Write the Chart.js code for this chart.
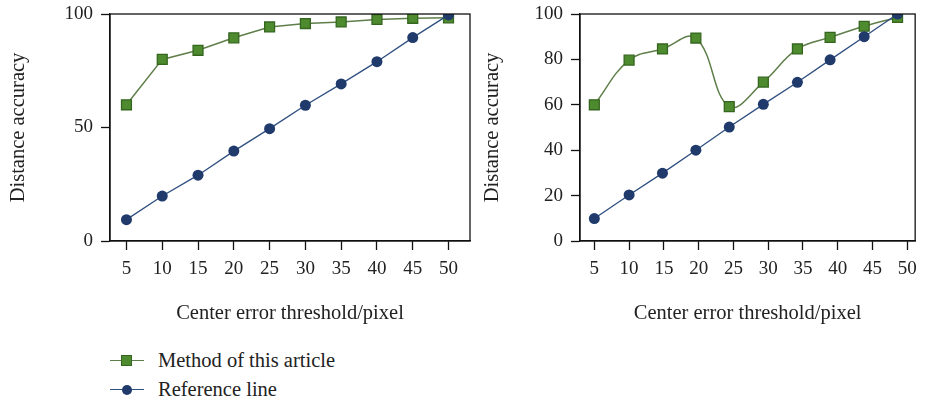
<!DOCTYPE html>
<html>
<head>
<meta charset="utf-8">
<script src="https://cdn.jsdelivr.net/npm/chart.js@4.4.1/dist/chart.umd.min.js"></script>
<style>
	body { margin: 0; background: #fff; width: 925px; height: 405px; overflow: hidden; position: relative; font-family: 'Liberation Serif', serif; }
	#leftWrap { position: absolute; left: 0; top: 0; width: 480px; height: 340px; }
	#rightWrap { position: absolute; left: 470px; top: 0; width: 455px; height: 340px; }
	.legend { position: absolute; left: 110px; font-size: 20.5px; color: #222; display: flex; align-items: center; }
	.legend .key { position: relative; width: 34px; height: 12px; margin-right: 14px; }
	.legend .key .ln { position: absolute; left: 0; right: 0; top: 5px; height: 1.3px; }
	.legend .key .sq { position: absolute; left: 11px; top: 0; width: 11px; height: 11px; box-sizing: border-box; }
	.legend .key .dot { position: absolute; left: 12px; top: 1px; width: 10px; height: 10px; border-radius: 50%; }
</style>
</head>
<body>
<div id="leftWrap"><canvas id="leftChart"></canvas></div>
<div id="rightWrap"><canvas id="rightChart"></canvas></div>
<div class="legend" style="top:349px">
	<div class="key"><div class="ln" style="background:#5f7f4a"></div><div class="sq" style="background:#4e8a2e;border:1.5px solid #35661f"></div></div>
	<span id="lgMethod"></span>
</div>
<div class="legend" style="top:378px">
	<div class="key"><div class="ln" style="background:#2f4f80"></div><div class="dot" style="background:#1f3a6b"></div></div>
	<span id="lgRef"></span>
</div>
<script>
// series names
const methodLabel = 'Method of this article';
const refLabel = 'Reference line';

// left panel
const leftX = [5, 10, 15, 20, 25, 30, 35, 40, 45, 50];
const leftMethod = [60, 80, 84, 89.5, 94.3, 95.8, 96.5, 97.6, 98.1, 98.3];
const leftRef = [9.4, 19.8, 29, 39.6, 49.5, 59.8, 69.2, 79, 89.6, 99.6];
const leftYTicks = [0, 50, 100];

// right panel
const rightX = [5, 10, 14.8, 19.6, 24.4, 29.3, 34.2, 38.9, 43.8, 48.6];
const rightMethod = [60, 79.7, 84.6, 89.4, 59.2, 70, 84.6, 89.7, 94.6, 98.5];
const rightRef = [9.9, 20.3, 29.9, 40, 50.2, 60.2, 69.9, 79.8, 90, 100];
const rightYTicks = [0, 20, 40, 60, 80, 100];

const xTicks = [5, 10, 15, 20, 25, 30, 35, 40, 45, 50];

document.getElementById('lgMethod').textContent = methodLabel;
document.getElementById('lgRef').textContent = refLabel;

const FONT = "'Liberation Serif', 'DejaVu Serif', serif";
const GREEN_LINE = '#5f7f4a';
const GREEN_FILL = '#4e8a2e';
const GREEN_EDGE = '#35661f';
const BLUE_LINE = '#2f4f80';
const BLUE_FILL = '#1f3a6b';

// box around plot area
const frame = {
	id: 'frame',
	afterDraw(chart) {
		const a = chart.chartArea;
		const c = chart.ctx;
		c.save();
		c.strokeStyle = '#111';
		c.lineWidth = 1.3;
		c.strokeRect(a.left, a.top, a.right - a.left, a.bottom - a.top);
		c.restore();
	}
};

function makeChart(id, xs, method, ref, yTicks, xMin, xMax, tension, padRight, yTitlePad) {
	const ptsM = xs.map((x, i) => ({ x: x, y: method[i] }));
	const ptsR = xs.map((x, i) => ({ x: x, y: ref[i] }));
	return new Chart(document.getElementById(id), {
		type: 'line',
		data: {
			datasets: [{
				label: refLabel,
				data: ptsR,
				borderColor: BLUE_LINE,
				borderWidth: 1.3,
				pointStyle: 'circle',
				pointRadius: 5.5,
				pointBackgroundColor: BLUE_FILL,
				pointBorderColor: BLUE_FILL,
				pointBorderWidth: 0,
				tension: 0
			}, {
				label: methodLabel,
				data: ptsM,
				borderColor: GREEN_LINE,
				borderWidth: 1.5,
				pointStyle: 'rect',
				pointRadius: 7,
				pointBackgroundColor: GREEN_FILL,
				pointBorderColor: GREEN_EDGE,
				pointBorderWidth: 1.3,
				tension: tension
			}]
		},
		options: {
			responsive: true,
			maintainAspectRatio: false,
			animation: false,
			layout: { padding: { top: 14, right: padRight, left: 0, bottom: 0 } },
			plugins: { legend: { display: false }, tooltip: { enabled: false } },
			scales: {
				x: {
					type: 'linear',
					min: xMin,
					max: xMax,
					afterBuildTicks: s => { s.ticks = xTicks.map(v => ({ value: v })); },
					afterFit: s => { s.height = 99; },
					border: { display: true, color: '#111', width: 1.3 },
					grid: { drawOnChartArea: false, drawTicks: true, tickLength: 9, tickColor: '#111', tickWidth: 1.3 },
					ticks: { color: '#222', padding: 8, maxRotation: 0, font: { family: FONT, size: 19 } },
					title: {
						display: true,
						text: 'Center error threshold/pixel',
						color: '#222',
						font: { family: FONT, size: 20.5 },
						padding: { top: 0, bottom: 14 }
					}
				},
				y: {
					min: 0,
					max: 100,
					afterBuildTicks: s => { s.ticks = yTicks.map(v => ({ value: v })); },
					afterFit: s => { s.width = 110; s.paddingTop = 0; s.paddingBottom = 0; },
					border: { display: true, color: '#111', width: 1.3 },
					grid: { drawOnChartArea: false, drawTicks: true, tickLength: 9, tickColor: '#111', tickWidth: 1.3 },
					ticks: { color: '#222', padding: 8, font: { family: FONT, size: 19 } },
					title: {
						display: true,
						text: 'Distance accuracy',
						color: '#222',
						font: { family: FONT, size: 20.5 },
						padding: { top: yTitlePad, bottom: 0 }
					}
				}
			}
		},
		plugins: [frame]
	});
}

makeChart('leftChart', leftX, leftMethod, leftRef, leftYTicks, 2.7, 53, 0, 10, 6);
makeChart('rightChart', rightX, rightMethod, rightRef, rightYTicks, 2.94, 51.13, 0.4, 4, 10);
</script>
</body>
</html>
